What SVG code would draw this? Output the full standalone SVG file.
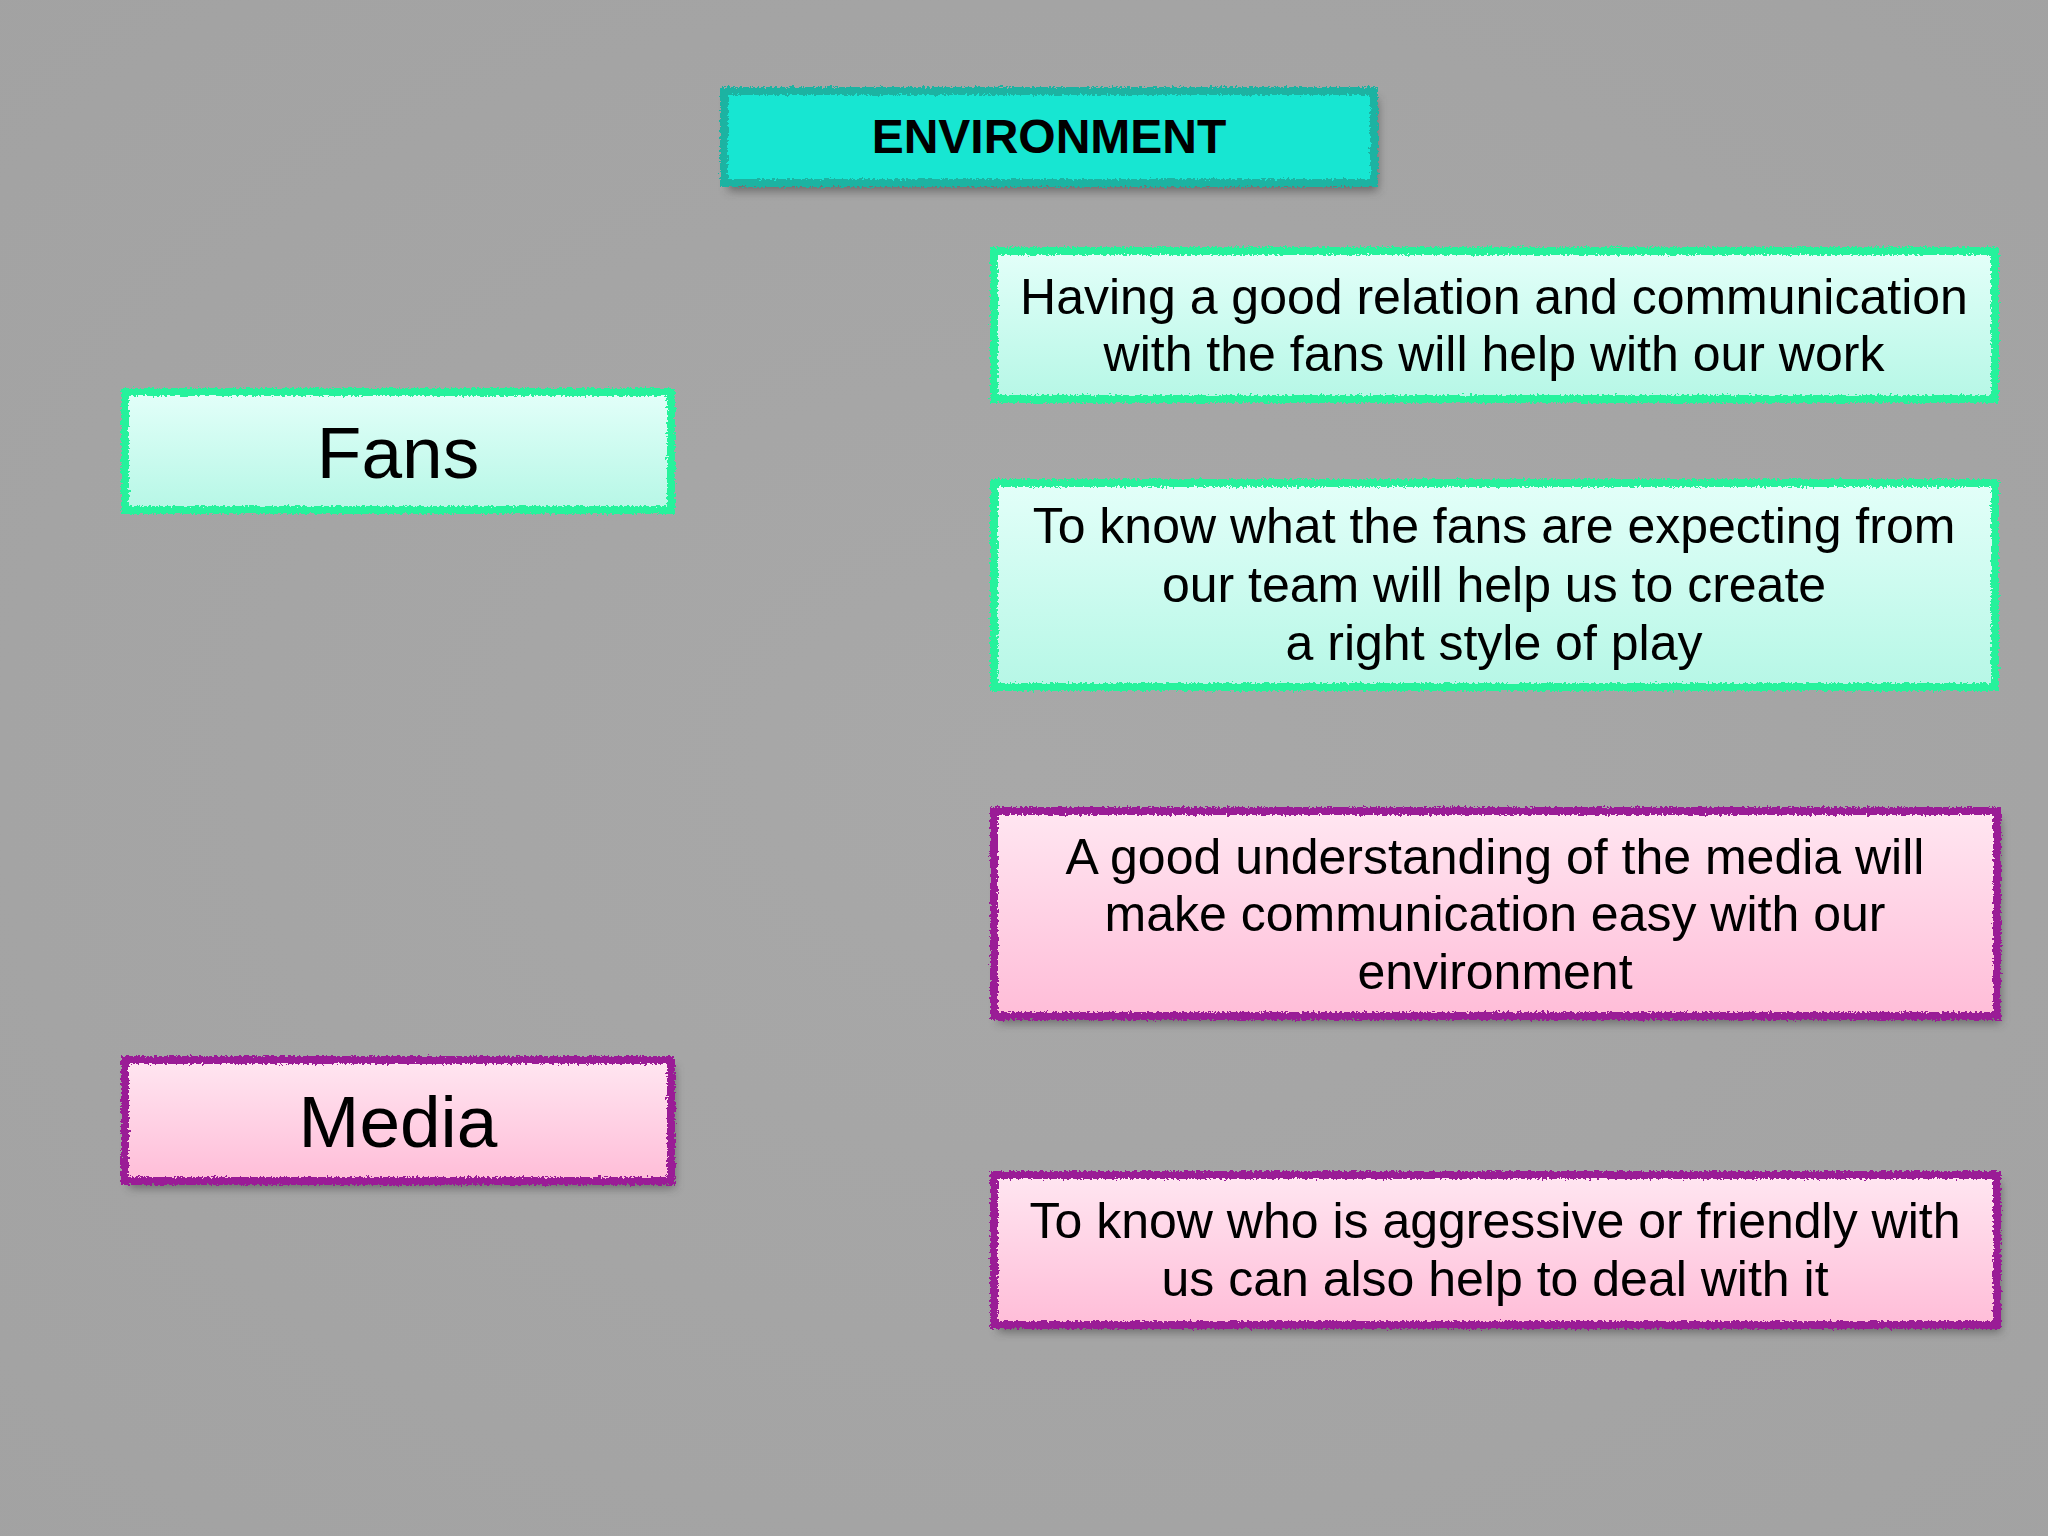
<svg xmlns="http://www.w3.org/2000/svg" width="2048" height="1536" viewBox="0 0 2048 1536">
<defs>
<style>
.t{font-family:"Liberation Sans",Arial,Helvetica,sans-serif;fill:#000;text-anchor:middle}
.body{font-size:50px}
.big{font-size:73px}
.head{font-size:48px;font-weight:bold}
.edge{fill:none;stroke-width:8;filter:url(#rough)}
.green{stroke:#27f29c}
.purple{stroke:#9a1f96}
.teal{stroke:#1fb3a2}
.shadow{fill:#3a3a3a;opacity:0.55;filter:url(#blur)}
</style>
<linearGradient id="gGreen" x1="0" y1="0" x2="0" y2="1">
<stop offset="0" stop-color="#e3fff9"/>
<stop offset="1" stop-color="#b6f7e6"/>
</linearGradient>
<linearGradient id="gPink" x1="0" y1="0" x2="0" y2="1">
<stop offset="0" stop-color="#ffe6f1"/>
<stop offset="1" stop-color="#ffbdd8"/>
</linearGradient>
<radialGradient id="bg" cx="0.5" cy="0.5" r="0.75">
<stop offset="0" stop-color="#a8a8a8"/>
<stop offset="1" stop-color="#a2a2a2"/>
</radialGradient>
<filter id="rough" x="-5%" y="-20%" width="110%" height="140%">
<feTurbulence type="fractalNoise" baseFrequency="0.4" numOctaves="2" seed="4" result="n"/>
<feDisplacementMap in="SourceGraphic" in2="n" scale="6" xChannelSelector="R" yChannelSelector="G"/>
</filter>
<filter id="blur" x="-10%" y="-30%" width="120%" height="160%">
<feGaussianBlur stdDeviation="5"/>
</filter>
</defs>
<rect width="2048" height="1536" fill="url(#bg)"/>

<g id="environment">
<rect class="shadow" x="728" y="99" width="650" height="92"/>
<rect x="724" y="91" width="650" height="92" fill="#17e6d2"/>
<rect class="edge teal" x="724" y="91" width="650" height="92"/>
<text class="t head" x="1049" y="153">ENVIRONMENT</text>
</g>

<g id="fans">
<rect x="125" y="392" width="546" height="118" fill="url(#gGreen)"/>
<rect class="edge green" x="125" y="392" width="546" height="118"/>
<text class="t big" x="398" y="478">Fans</text>
</g>

<g id="media">
<rect class="shadow" x="129" y="1067" width="546" height="121"/>
<rect x="125" y="1060" width="546" height="121" fill="url(#gPink)"/>
<rect class="edge purple" x="125" y="1060" width="546" height="121"/>
<text class="t big" x="398" y="1147">Media</text>
</g>

<g id="fans-relation">
<rect x="994" y="251" width="1001" height="148" fill="url(#gGreen)"/>
<rect class="edge green" x="994" y="251" width="1001" height="148"/>
<text class="t body" x="1494" y="314">Having a good relation and communication</text>
<text class="t body" x="1494" y="371">with the fans will help with our work</text>
</g>

<g id="fans-expectations">
<rect x="994" y="483" width="1001" height="204" fill="url(#gGreen)"/>
<rect class="edge green" x="994" y="483" width="1001" height="204"/>
<text class="t body" x="1494" y="543">To know what the fans are expecting from</text>
<text class="t body" x="1494" y="602">our team will help us to create</text>
<text class="t body" x="1494" y="660">a right style of play</text>
</g>

<g id="media-understanding">
<rect class="shadow" x="998" y="818" width="1003" height="205"/>
<rect x="994" y="811" width="1003" height="205" fill="url(#gPink)"/>
<rect class="edge purple" x="994" y="811" width="1003" height="205"/>
<text class="t body" x="1495" y="874">A good understanding of the media will</text>
<text class="t body" x="1495" y="931">make communication easy with our</text>
<text class="t body" x="1495" y="989">environment</text>
</g>

<g id="media-attitude">
<rect class="shadow" x="998" y="1182" width="1003" height="150"/>
<rect x="994" y="1175" width="1003" height="150" fill="url(#gPink)"/>
<rect class="edge purple" x="994" y="1175" width="1003" height="150"/>
<text class="t body" x="1495" y="1238">To know who is aggressive or friendly with</text>
<text class="t body" x="1495" y="1296">us can also help to deal with it</text>
</g>

<g id="connectors"></g>
</svg>
